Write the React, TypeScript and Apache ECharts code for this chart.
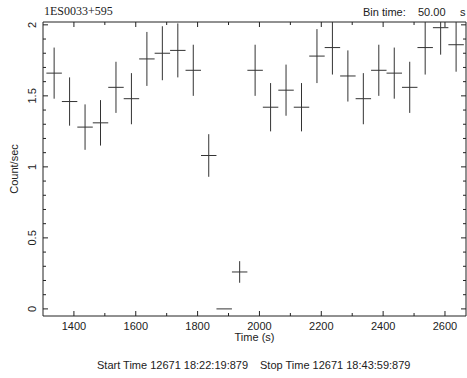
import React, { useEffect, useRef } from "react";
import * as echarts from "echarts";

const binCenters = [1336, 1386, 1436, 1486, 1536, 1586, 1636, 1686, 1736, 1786, 1836, 1886, 1936, 1986, 2036, 2086, 2136, 2186, 2236, 2286, 2336, 2386, 2436, 2486, 2536, 2586, 2636];
const rates = [1.66, 1.46, 1.28, 1.31, 1.56, 1.48, 1.76, 1.80, 1.82, 1.68, 1.08, 0, 0.26, 1.68, 1.42, 1.54, 1.42, 1.78, 1.84, 1.64, 1.48, 1.68, 1.66, 1.56, 1.84, 1.98, 1.86];
const errors = [0.18, 0.17, 0.16, 0.16, 0.18, 0.18, 0.19, 0.19, 0.19, 0.18, 0.15, 0, 0.076, 0.18, 0.17, 0.18, 0.17, 0.19, 0.19, 0.18, 0.18, 0.18, 0.18, 0.18, 0.19, 0.19, 0.19];
const binHalfWidth = 25;

const xMajorTicks = [1400, 1600, 1800, 2000, 2200, 2400, 2600];
const xMinorTicks = [1500, 1700, 1900, 2100, 2300, 2500];
const yMajorTicks = [0, 0.5, 1, 1.5, 2];
const yMinorTicks = [0.1, 0.2, 0.3, 0.4, 0.6, 0.7, 0.8, 0.9, 1.1, 1.2, 1.3, 1.4, 1.6, 1.7, 1.8, 1.9];

const sans = "'Liberation Sans', Arial, sans-serif";
const ink = "#222";

export default function App() {
  const ref = useRef<HTMLDivElement>(null);
  useEffect(() => {
    const chart = echarts.init(ref.current!, null, { renderer: "svg" });
    const xMin = 1300, xMax = 2668, yMin = -0.05, yMax = 2.02;
    const tickStyle = { stroke: ink, lineWidth: 1 };

    const xTickData = [
      ...xMajorTicks.map((v) => [v, 0, 5]),
      ...xMinorTicks.map((v) => [v, 0, 3]),
    ];
    const yTickData = [
      ...yMajorTicks.map((v) => [xMin, v, 5]),
      ...yMinorTicks.map((v) => [xMin, v, 3]),
    ];

    chart.setOption({
      animation: false,
      grid: { left: 43, top: 22, right: 1, bottom: 62, containLabel: false },
      xAxis: {
        type: "value", min: xMin, max: xMax, position: "bottom",
        name: "Time (s)", nameLocation: "middle", nameGap: 15, nameMoveOverlap: false,
        nameTextStyle: { fontFamily: sans, fontSize: 11, color: ink },
        axisLine: { show: false },
        axisTick: { show: false },
        axisLabel: { show: true, customValues: xMajorTicks, fontFamily: sans, fontSize: 11, color: ink, margin: 4, formatter: (v: number) => String(v) },
        splitLine: { show: false },
      },
      yAxis: {
        type: "value", min: yMin, max: yMax, position: "left",
        name: "Count/sec", nameLocation: "middle", nameGap: 24, nameMoveOverlap: false,
        nameTextStyle: { fontFamily: sans, fontSize: 11, color: ink },
        axisLine: { show: false },
        axisTick: { show: false },
        axisLabel: { show: true, customValues: yMajorTicks, rotate: 90, fontFamily: sans, fontSize: 11, color: ink, margin: 6, formatter: (v: number) => String(v) },
        splitLine: { show: false },
      },
      graphic: [
        { type: "text", left: 44, top: 5, style: { text: "1ES0033+595", fontSize: 12, fontFamily: "Liberation Serif", fill: ink } },
        { type: "text", left: 363, top: 6, style: { text: "Bin time:", fontSize: 11, fontFamily: "Liberation Sans", fill: ink } },
        { type: "text", left: 418, top: 6, style: { text: "50.00", fontSize: 11, fontFamily: "Liberation Sans", fill: ink } },
        { type: "text", left: 460, top: 6, style: { text: "s", fontSize: 11, fontFamily: "Liberation Sans", fill: ink } },
        { type: "text", left: 97, top: 359, style: { text: "Start Time 12671 18:22:19:879", fontSize: 11, fontFamily: "Liberation Sans", fill: ink } },
        { type: "text", left: 260, top: 359, style: { text: "Stop Time 12671 18:43:59:879", fontSize: 11, fontFamily: "Liberation Sans", fill: ink } },
      ],
      series: [
        {
          type: "custom",
          name: "frame",
          clip: false,
          silent: true,
          data: [[xMin, yMin]],
          renderItem: (params: any, api: any) => {
            const cs = params.coordSys;
            return {
              type: "rect",
              shape: { x: cs.x, y: cs.y, width: cs.width, height: cs.height },
              style: { fill: "none", stroke: ink, lineWidth: 1 },
            };
          },
        },
        {
          type: "custom",
          name: "xticks",
          clip: false,
          silent: true,
          data: xTickData,
          renderItem: (params: any, api: any) => {
            const cs = params.coordSys;
            const p = api.coord([api.value(0), 0]);
            const len = api.value(2);
            const bottom = cs.y + cs.height;
            return {
              type: "group",
              children: [
                { type: "line", shape: { x1: p[0], y1: bottom, x2: p[0], y2: bottom - len }, style: tickStyle },
                { type: "line", shape: { x1: p[0], y1: cs.y, x2: p[0], y2: cs.y + len }, style: tickStyle },
              ],
            };
          },
        },
        {
          type: "custom",
          name: "yticks",
          clip: false,
          silent: true,
          data: yTickData,
          renderItem: (params: any, api: any) => {
            const cs = params.coordSys;
            const p = api.coord([xMin, api.value(1)]);
            const len = api.value(2);
            const right = cs.x + cs.width;
            return {
              type: "group",
              children: [
                { type: "line", shape: { x1: cs.x, y1: p[1], x2: cs.x + len, y2: p[1] }, style: tickStyle },
                { type: "line", shape: { x1: right, y1: p[1], x2: right - len, y2: p[1] }, style: tickStyle },
              ],
            };
          },
        },
        {
          type: "custom",
          name: "rate",
          clip: true,
          encode: { x: 0, y: 1 },
          data: binCenters.map((t, i) => [t, rates[i], errors[i]]),
          renderItem: (params: any, api: any) => {
            const x = api.value(0), y = api.value(1), e = api.value(2);
            const l = api.coord([x - binHalfWidth, y]);
            const r = api.coord([x + binHalfWidth, y]);
            const t = api.coord([x, y + e]);
            const b = api.coord([x, y - e]);
            const st = { stroke: "#333", lineWidth: 1 };
            return {
              type: "group",
              children: [
                { type: "line", shape: { x1: l[0], y1: l[1], x2: r[0], y2: r[1] }, style: st },
                { type: "line", shape: { x1: t[0], y1: t[1], x2: b[0], y2: b[1] }, style: st },
              ],
            };
          },
        },
      ],
    });
    return () => chart.dispose();
  }, []);
  return <div ref={ref} style={{ position: "fixed", left: 0, top: 0, width: 467, height: 378, background: "#fff" }} />;
}
